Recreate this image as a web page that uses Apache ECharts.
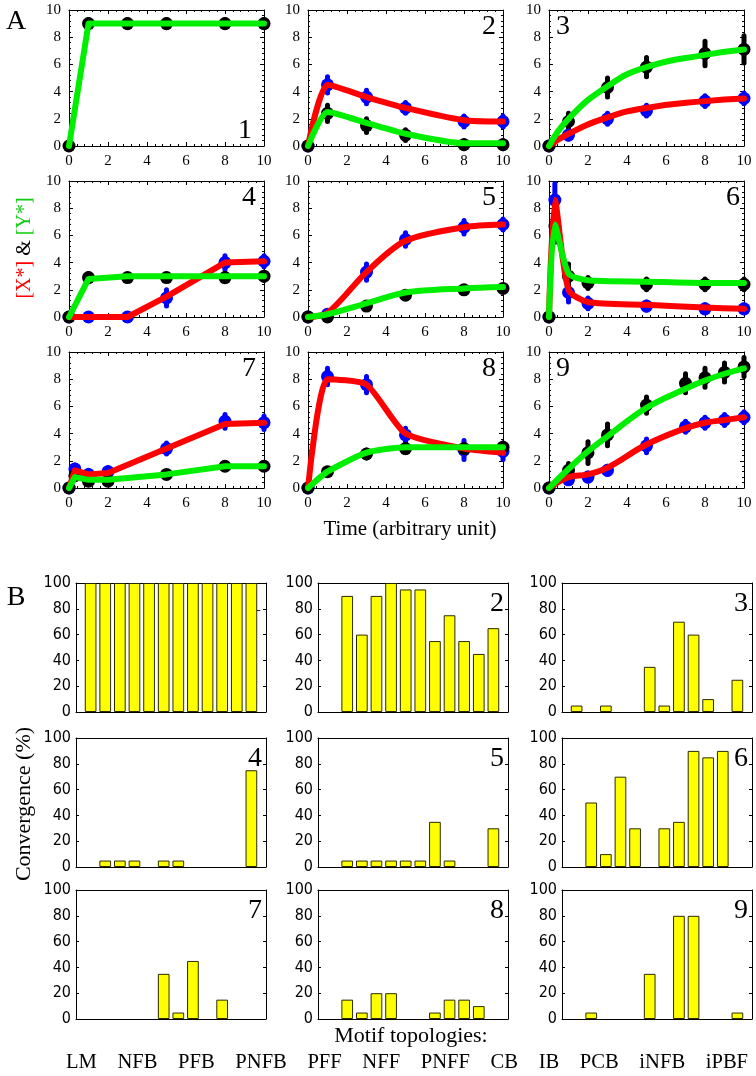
<!DOCTYPE html>
<html><head><meta charset="utf-8">
<script src="https://cdn.jsdelivr.net/npm/echarts@6/dist/echarts.min.js"></script>
<style>html,body{margin:0;padding:0;background:#fff}#c{width:756px;height:1076px}</style>
</head><body><div id="c"></div>
<script>
// ---------------- Panel A data (time courses) ----------------
const a1_t = [0, 1, 3, 5, 8, 10];
const a1_Y = [0, 9, 9, 9, 9, 9];
const a1_Yerr = [0, 0.3, 0.3, 0.3, 0.3, 0.3];
const a1_Yfit = [0, 9, 9, 9, 9, 9];

const a2_t = [0, 1, 3, 5, 8, 10];
const a2_X = [0, 4.5, 3.6, 2.8, 1.8, 1.8];
const a2_Xerr = [0, 0.6, 0.5, 0.4, 0.4, 0.4];
const a2_Y = [0, 2.4, 1.5, 0.8, 0.1, 0.1];
const a2_Yerr = [0, 0.6, 0.5, 0.4, 0.3, 0.3];
const a2_Xfit = [0, 4.5, 3.6, 2.8, 1.9, 1.8];
const a2_Yfit = [0, 2.5, 1.7, 0.9, 0.2, 0.2];

const a3_t = [0, 1, 3, 5, 8, 10];
const a3_X = [0, 0.8, 2.0, 2.6, 3.3, 3.5];
const a3_Xerr = [0, 0.3, 0.4, 0.4, 0.4, 0.4];
const a3_Y = [0, 1.8, 4.3, 5.8, 6.8, 7.1];
const a3_Yerr = [0, 0.6, 0.7, 0.7, 0.9, 1.0];
const a3_Xfit = [0, 0.9, 2.1, 2.8, 3.3, 3.5];
const a3_Yfit = [0, 2.0, 4.4, 5.8, 6.7, 7.1];

const a4_t = [0, 1, 3, 5, 8, 10];
const a4_X = [0, 0, 0, 1.4, 4.0, 4.1];
const a4_Xerr = [0, 0.2, 0.2, 0.6, 0.5, 0.4];
const a4_Y = [0, 2.9, 2.9, 2.9, 2.9, 3.0];
const a4_Yerr = [0, 0.3, 0.2, 0.2, 0.3, 0.3];
const a4_Xfit = [0, 0, 0, 1.5, 4.0, 4.1];
const a4_Yfit = [0, 2.8, 3.0, 3.0, 3.0, 3.0];

const a5_t = [0, 1, 3, 5, 8, 10];
const a5_X = [0, 0.2, 3.3, 5.7, 6.6, 6.8];
const a5_Xerr = [0, 0.2, 0.6, 0.5, 0.5, 0.4];
const a5_Y = [0, 0, 0.8, 1.6, 2.0, 2.1];
const a5_Yerr = [0, 0.1, 0.2, 0.2, 0.2, 0.2];
const a5_Xfit = [0, 0.3, 3.3, 5.6, 6.6, 6.8];
const a5_Yfit = [0, 0.2, 1.0, 1.8, 2.1, 2.2];

const a6_t = [0, 0.3, 1, 2, 5, 8, 10];
const a6_X = [0, 8.6, 1.8, 1.0, 0.8, 0.6, 0.6];
const a6_Xerr = [0, 1.2, 0.7, 0.4, 0.3, 0.3, 0.3];
const a6_Y = [0, 6.7, 3.0, 2.5, 2.4, 2.4, 2.4];
const a6_Yerr = [0, 1.2, 0.9, 0.4, 0.4, 0.4, 0.4];
const a6_Xfit = [0, 8.6, 2.0, 1.1, 0.9, 0.7, 0.6];
const a6_Yfit = [0, 6.8, 3.2, 2.7, 2.6, 2.5, 2.5];

const a7_t = [0, 0.3, 1, 2, 5, 8, 10];
const a7_X = [0, 1.4, 1.0, 1.2, 2.9, 4.9, 4.8];
const a7_Xerr = [0, 0.3, 0.3, 0.3, 0.4, 0.5, 0.5];
const a7_Y = [0, 0.9, 0.5, 0.5, 1.0, 1.6, 1.6];
const a7_Yerr = [0, 0.3, 0.2, 0.2, 0.2, 0.2, 0.2];
const a7_Xfit = [0, 1.3, 1.0, 1.1, 2.9, 4.7, 4.8];
const a7_Yfit = [0, 0.8, 0.6, 0.6, 1.0, 1.6, 1.6];

const a8_t = [0, 1, 3, 5, 8, 10];
const a8_X = [0, 8.2, 7.6, 3.9, 2.8, 2.7];
const a8_Xerr = [0, 0.6, 0.6, 0.5, 0.7, 0.6];
const a8_Y = [0, 1.2, 2.5, 2.9, 2.9, 3.0];
const a8_Yerr = [0, 0.2, 0.3, 0.3, 0.3, 0.3];
const a8_Xfit = [0, 8.0, 7.6, 4.0, 2.9, 2.6];
const a8_Yfit = [0, 1.2, 2.6, 3.0, 3.0, 3.0];

const a9_t = [0, 1, 2, 3, 5, 7, 8, 9, 10];
const a9_X = [0, 0.6, 0.8, 1.3, 3.1, 4.5, 4.8, 5.0, 5.2];
const a9_Xerr = [0, 0.2, 0.3, 0.3, 0.5, 0.4, 0.4, 0.4, 0.4];
const a9_Y = [0, 1.3, 2.6, 3.9, 6.1, 7.7, 8.1, 8.5, 8.9];
const a9_Yerr = [0, 0.5, 0.8, 0.8, 0.6, 0.7, 0.7, 0.7, 0.7];
const a9_Xfit = [0, 0.8, 1.0, 1.5, 3.2, 4.4, 4.8, 5.0, 5.2];
const a9_Yfit = [0, 1.4, 2.7, 3.8, 5.9, 7.3, 7.9, 8.4, 8.8];

const aTicks = [0, 2, 4, 6, 8, 10];

// ---------------- Panel B data (convergence %) ----------------
const motifs = ['LM','NFB','PFB','PNFB','PFF','NFF','PNFF','CB','IB','PCB','iNFB','iPBF'];
const b1 = [100,100,100,100,100,100,100,100,100,100,100,100];
const b2 = [0,90,60,90,100,95,95,55,75,55,45,65];
const b3 = [5,0,5,0,0,35,5,70,60,10,0,25];
const b4 = [0,5,5,5,0,5,5,0,0,0,0,75];
const b5 = [0,5,5,5,5,5,5,35,5,0,0,30];
const b6 = [0,50,10,70,30,0,30,35,90,85,90,0];
const b7 = [0,0,0,0,0,35,5,45,0,15,0,0];
const b8 = [0,15,5,20,20,0,0,5,15,15,10,0];
const b9 = [0,5,0,0,0,35,0,80,80,0,0,5];
const bTicks = [0, 20, 40, 60, 80, 100];

// ---------------- assembly ----------------
const panelsA = [
  {t:a1_t, Y:a1_Y, Ye:a1_Yerr, Yf:a1_Yfit},
  {t:a2_t, X:a2_X, Xe:a2_Xerr, Y:a2_Y, Ye:a2_Yerr, Xf:a2_Xfit, Yf:a2_Yfit, smooth:0.2},
  {t:a3_t, X:a3_X, Xe:a3_Xerr, Y:a3_Y, Ye:a3_Yerr, Xf:a3_Xfit, Yf:a3_Yfit, smooth:0.5},
  {t:a4_t, X:a4_X, Xe:a4_Xerr, Y:a4_Y, Ye:a4_Yerr, Xf:a4_Xfit, Yf:a4_Yfit},
  {t:a5_t, X:a5_X, Xe:a5_Xerr, Y:a5_Y, Ye:a5_Yerr, Xf:a5_Xfit, Yf:a5_Yfit, smooth:0.3},
  {t:a6_t, X:a6_X, Xe:a6_Xerr, Y:a6_Y, Ye:a6_Yerr, Xf:a6_Xfit, Yf:a6_Yfit, smooth:0.25},
  {t:a7_t, X:a7_X, Xe:a7_Xerr, Y:a7_Y, Ye:a7_Yerr, Xf:a7_Xfit, Yf:a7_Yfit},
  {t:a8_t, X:a8_X, Xe:a8_Xerr, Y:a8_Y, Ye:a8_Yerr, Xf:a8_Xfit, Yf:a8_Yfit, smooth:0.2},
  {t:a9_t, X:a9_X, Xe:a9_Xerr, Y:a9_Y, Ye:a9_Yerr, Xf:a9_Xfit, Yf:a9_Yfit, smooth:0.4}
];
const panelsB = [b1,b2,b3,b4,b5,b6,b7,b8,b9];

const A_LEFT = [69, 308, 549], A_TOP = [10, 181, 352], A_W = 195, A_H = 136;
const B_LEFT = [76, 318, 562], B_TOP = [583, 738, 890], B_W = 190, B_H = 129;

const SERIF = 'Liberation Serif, Times New Roman, serif';
const NARROW = 'Liberation Sans Narrow, DejaVu Sans Condensed, Arial Narrow, sans-serif';
const RED = '#ff0000', GREEN = '#00ee00', BLUE = '#0000ff', BLACK = '#000000';

const option = {animation:false, backgroundColor:'#fff', grid:[], xAxis:[], yAxis:[], series:[], graphic:{elements:[]}};

function lineAxisCommon(){ return {axisLine:{show:true, onZero:false, lineStyle:{color:'#000', width:1}}, splitLine:{show:false}}; }

function errSeries(ax, t, v, e, color){
  return {type:'custom', xAxisIndex:ax, yAxisIndex:ax, clip:false,
    data:t.map((x,i)=>[x, v[i]-e[i], v[i]+e[i]]),
    renderItem:function(params, api){
      const p1 = api.coord([api.value(0), api.value(1)]);
      const p2 = api.coord([api.value(0), api.value(2)]);
      return {type:'line', shape:{x1:p1[0], y1:p1[1], x2:p2[0], y2:p2[1]}, style:{stroke:color, lineWidth:5, lineCap:'round'}};
    }};
}
function dotSeries(ax, t, v, color){
  return {type:'scatter', xAxisIndex:ax, yAxisIndex:ax, clip:false, symbol:'circle', symbolSize:13,
    itemStyle:{color:color, opacity:1}, data:t.map((x,i)=>[x, v[i]])};
}
function fitSeries(ax, t, v, color, smooth){
  return {type:'line', xAxisIndex:ax, yAxisIndex:ax, clip:false, showSymbol:false, symbol:'none',
    smooth:smooth || false,
    lineStyle:{color:color, width:6, cap:'round', join:'round'}, data:t.map((x,i)=>[x, v[i]])};
}

panelsA.forEach((p, k) => {
  const g = option.grid.length;
  option.grid.push({left:A_LEFT[k%3], top:A_TOP[Math.floor(k/3)], width:A_W, height:A_H, containLabel:false});
  const base = {gridIndex:g, type:'value', min:aTicks[0], max:aTicks[aTicks.length-1], interval:aTicks[1]-aTicks[0]};
  const tick = {show:true, inside:true, length:4, lineStyle:{color:'#000', width:1}};
  const minor = {show:true, splitNumber:5, length:2, lineStyle:{color:'#000', width:1}};
  option.xAxis.push(Object.assign({}, base, lineAxisCommon(), {position:'bottom', axisTick:tick, minorTick:minor,
    axisLabel:{fontFamily:SERIF, fontSize:15, color:'#000', margin:8}}));
  option.xAxis.push(Object.assign({}, base, lineAxisCommon(), {position:'top', axisTick:tick, minorTick:minor, axisLabel:{show:false}}));
  option.yAxis.push(Object.assign({}, base, lineAxisCommon(), {position:'left', axisTick:tick, minorTick:minor,
    axisLabel:{fontFamily:SERIF, fontSize:15, color:'#000', margin:8}}));
  option.yAxis.push(Object.assign({}, base, lineAxisCommon(), {position:'right', axisTick:tick, minorTick:minor, axisLabel:{show:false}}));
  const ax = 2*g;
  if (p.X) { option.series.push(errSeries(ax, p.t, p.X, p.Xe, BLUE)); option.series.push(dotSeries(ax, p.t, p.X, BLUE)); }
  option.series.push(errSeries(ax, p.t, p.Y, p.Ye, BLACK)); option.series.push(dotSeries(ax, p.t, p.Y, BLACK));
  if (p.Xf) option.series.push(fitSeries(ax, p.t, p.Xf, RED, p.smooth));
  option.series.push(fitSeries(ax, p.t, p.Yf, GREEN, p.smooth));
});

panelsB.forEach((vals, k) => {
  const g = option.grid.length;
  option.grid.push({left:B_LEFT[k%3], top:B_TOP[Math.floor(k/3)], width:B_W, height:B_H, containLabel:false});
  const xb = {gridIndex:g, type:'value', min:0, max:motifs.length+1, axisLabel:{show:false}, axisTick:{show:false}, minorTick:{show:false}};
  option.xAxis.push(Object.assign({}, xb, lineAxisCommon(), {position:'bottom'}));
  option.xAxis.push(Object.assign({}, xb, lineAxisCommon(), {position:'top'}));
  const yb = {gridIndex:g, type:'value', min:bTicks[0], max:bTicks[bTicks.length-1], interval:bTicks[1]-bTicks[0]};
  const tick = {show:true, inside:true, length:3, lineStyle:{color:'#000', width:1}};
  option.yAxis.push(Object.assign({}, yb, lineAxisCommon(), {position:'left', axisTick:tick,
    axisLabel:{fontFamily:NARROW, fontSize:16, color:'#000', margin:5}}));
  option.yAxis.push(Object.assign({}, yb, lineAxisCommon(), {position:'right', axisTick:tick, axisLabel:{show:false}}));
  const ax = 2*g;
  option.series.push({type:'bar', xAxisIndex:ax, yAxisIndex:ax, barWidth:'80%',
    itemStyle:{color:'#ffff00', borderColor:'#2a2a00', borderWidth:1},
    data:vals.map((v,i)=>[i+1, v === 0 ? '-' : v])});
});

// ---------------- texts ----------------
const G = option.graphic.elements;
function txt(x, y, s, size, opts){
  G.push(Object.assign({type:'text', x:x, y:y, silent:true,
    style:Object.assign({text:s, fontFamily:SERIF, fontSize:size, fill:'#000', align:'center', verticalAlign:'middle'}, (opts&&opts.style)||{})},
    (opts&&opts.el)||{}));
}
txt(16, 22, 'A', 28);
txt(16, 598, 'B', 28);
// panel A subplot numbers
const aNum = [[252,131,'right'],[496,27,'right'],[556,27,'left'],[256,198,'right'],[496,198,'right'],[740,198,'right'],[256,369,'right'],[496,369,'right'],[556,369,'left']];
aNum.forEach((n,i)=>txt(n[0], n[1], String(i+1), 28, {style:{align:n[2]}}));
// panel B subplot numbers
for (let i=0;i<9;i++){
  txt(B_LEFT[i%3]+B_W-4, B_TOP[Math.floor(i/3)]+21, String(i+1), 28, {style:{align:'right'}});
}
txt(410, 529, 'Time (arbitrary unit)', 21);
G.push({type:'text', x:25, y:248, rotation:Math.PI/2, silent:true,
  style:{text:'{r|[X*]} & {g|[Y*]}', fontFamily:SERIF, fontSize:20, fill:'#000', align:'center', verticalAlign:'middle',
    rich:{r:{fill:RED, fontFamily:SERIF, fontSize:20}, g:{fill:'#11cc11', fontFamily:SERIF, fontSize:20}}}});
G.push({type:'text', x:24, y:804, rotation:Math.PI/2, silent:true,
  style:{text:'Convergence (%)', fontFamily:SERIF, fontSize:22, fill:'#000', align:'center', verticalAlign:'middle'}});
txt(411, 1036, 'Motif topologies:', 22);
txt(407, 1063, motifs.join('    '), 20.6);

echarts.init(document.getElementById('c'), null, {renderer:'canvas'}).setOption(option);
</script></body></html>
